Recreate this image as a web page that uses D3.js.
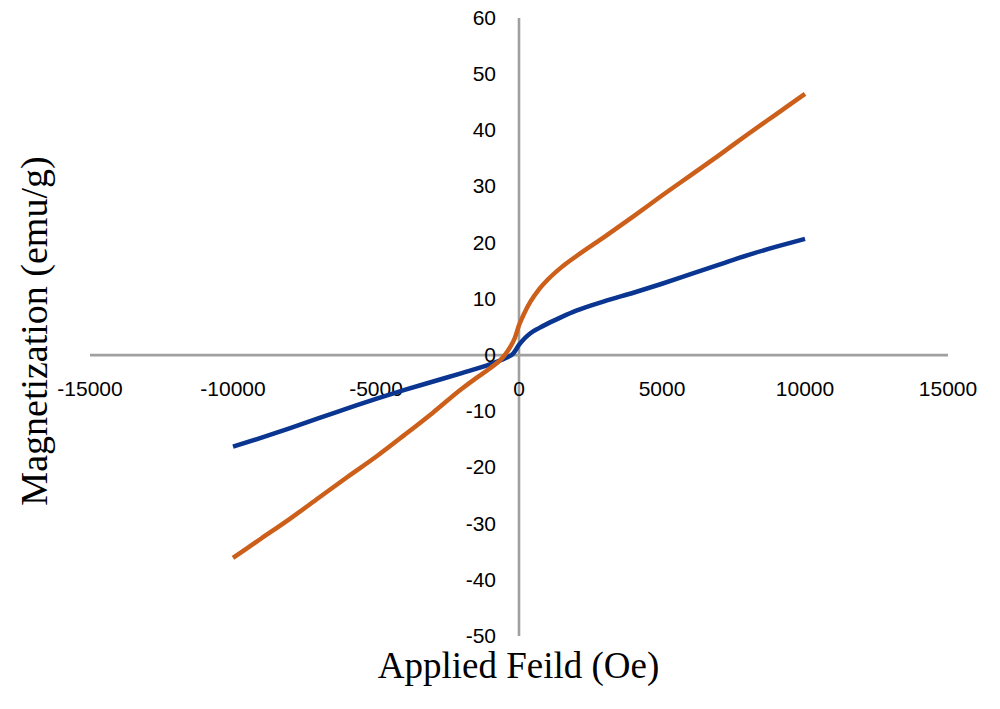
<!DOCTYPE html>
<html>
<head>
<meta charset="utf-8">
<script src="https://cdn.jsdelivr.net/npm/d3@7"></script>
<style>
  html, body { margin: 0; padding: 0; background: #ffffff; }
  svg { display: block; }
</style>
</head>
<body>
<svg id="chart" width="1000" height="709"></svg>
<script>
// ---- data ----
const fieldOrange = [-10000, -9000, -8000, -7000, -6000, -5000, -4000, -3000, -2000, -1500, -1000, -600, -500, -300, -150, 0, 200, 400, 700, 1000, 1500, 2000, 3000, 4000, 5000, 6000, 7000, 8000, 9000, 10000];
const magOrange   = [-36.1, -32.6, -29.1, -25.4, -21.7, -18.1, -14.2, -10.2, -6.0, -4.1, -2.3, -0.6, 0.0, 1.5, 3.0, 5.3, 7.6, 9.5, 11.7, 13.4, 15.7, 17.6, 21.1, 24.7, 28.4, 32.0, 35.6, 39.3, 42.9, 46.5];

const fieldBlue = [-10000, -9000, -8000, -7000, -6000, -5000, -4000, -3000, -2000, -1000, -500, -200, 0, 200, 400, 700, 1000, 1500, 2000, 3000, 4000, 5000, 6000, 7000, 8000, 9000, 10000];
const magBlue   = [-16.3, -14.7, -13.0, -11.2, -9.5, -7.8, -6.2, -4.7, -3.2, -1.6, -0.6, 0.3, 1.8, 3.0, 3.9, 4.8, 5.6, 6.8, 7.9, 9.6, 11.1, 12.7, 14.4, 16.1, 17.8, 19.3, 20.7];

const xTicks = [-15000, -10000, -5000, 0, 5000, 10000, 15000];
const yTicks = [-50, -40, -30, -20, -10, 0, 10, 20, 30, 40, 50, 60];

const xTitle = "Applied Feild (Oe)";
const yTitle = "Magnetization (emu/g)";

// ---- layout ----
const svg = d3.select("#chart");
const x = d3.scaleLinear().domain([-15000, 15000]).range([90, 948]);
const y = d3.scaleLinear().domain([-50, 60]).range([636, 18]);

const axisColor = "#a0a0a0";
const tickFont = "'Liberation Sans', Arial, sans-serif";

// x axis line (at y = 0)
svg.append("line")
  .attr("x1", x(-15000)).attr("x2", x(15000))
  .attr("y1", y(0)).attr("y2", y(0))
  .attr("stroke", axisColor).attr("stroke-width", 2.6);

// y axis line (at x = 0)
svg.append("line")
  .attr("x1", x(0)).attr("x2", x(0))
  .attr("y1", y(60)).attr("y2", y(-50))
  .attr("stroke", axisColor).attr("stroke-width", 2.6);

// x tick labels
svg.append("g").selectAll("text")
  .data(xTicks).enter().append("text")
  .attr("x", d => x(d))
  .attr("y", y(0) + 41)
  .attr("text-anchor", "middle")
  .attr("font-family", tickFont)
  .attr("font-size", 21)
  .attr("fill", "#000")
  .text(d => d);

// y tick labels
svg.append("g").selectAll("text")
  .data(yTicks).enter().append("text")
  .attr("x", x(0) - 23)
  .attr("y", d => y(d))
  .attr("dy", "0.33em")
  .attr("text-anchor", "end")
  .attr("font-family", tickFont)
  .attr("font-size", 21)
  .attr("fill", "#000")
  .text(d => d);

// series lines
const line = d3.line()
  .x(d => x(d[0]))
  .y(d => y(d[1]))
  .curve(d3.curveMonotoneX);

const blueData = fieldBlue.map((f, i) => [f, magBlue[i]]);
const orangeData = fieldOrange.map((f, i) => [f, magOrange[i]]);

svg.append("path")
  .datum(blueData)
  .attr("d", line)
  .attr("fill", "none")
  .attr("stroke", "#0a3590")
  .attr("stroke-width", 4.5)
  .attr("stroke-linejoin", "round");

svg.append("path")
  .datum(orangeData)
  .attr("d", line)
  .attr("fill", "none")
  .attr("stroke", "#cc5f1a")
  .attr("stroke-width", 4.5)
  .attr("stroke-linejoin", "round");

// axis titles
svg.append("text")
  .attr("x", 518.5)
  .attr("y", 678)
  .attr("text-anchor", "middle")
  .attr("font-family", "'Liberation Serif', 'Times New Roman', serif")
  .attr("font-size", 37)
  .attr("fill", "#000")
  .text(xTitle);

svg.append("text")
  .attr("transform", "translate(47,331) rotate(-90)")
  .attr("text-anchor", "middle")
  .attr("font-family", "'Liberation Serif', 'Times New Roman', serif")
  .attr("font-size", 38)
  .attr("fill", "#000")
  .text(yTitle);
</script>
</body>
</html>
